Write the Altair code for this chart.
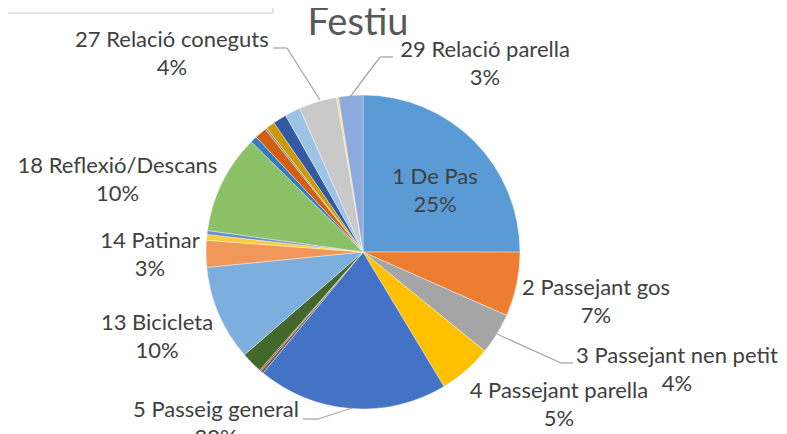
import math
import altair as alt
import pandas as pd

# ---- data (slice order = Excel order, clockwise from 12 o'clock) ----
categories = ["1 De Pas", "2 Passejant gos", "3 Passejant nen petit", "4 Passejant parella",
              "5 Passeig general", "6", "7", "12", "13 Bicicleta", "14 Patinar", "16", "17",
              "18 Reflexió/Descans", "19", "20", "21", "22", "23", "25",
              "27 Relació coneguts", "28", "29 Relació parella"]
values = [25.0, 6.6, 4.25, 5.5, 19.6, 0.3, 0.15, 2.2, 9.8, 2.75, 0.6, 0.4,
          10.2, 0.7, 1.2, 0.2, 0.9, 1.4, 1.6, 3.9, 0.2, 2.5]
colors = ["#5B9BD5", "#ED7D31", "#A5A5A5", "#FFC000", "#4472C4", "#636363", "#9E480E",
          "#43682B", "#7CAFDD", "#F1975A", "#FFCD33", "#698ED0", "#8CC168", "#327DC2",
          "#D26012", "#848484", "#CC9A00", "#335AA1", "#9DC3E6", "#C9C9C9", "#FFD966",
          "#8FAADC"]

# labelled slices and their percentages as displayed
label_names = ["1 De Pas", "2 Passejant gos", "3 Passejant nen petit", "4 Passejant parella",
               "5 Passeig general", "13 Bicicleta", "14 Patinar", "18 Reflexió/Descans",
               "27 Relació coneguts", "29 Relació parella"]
label_pcts = ["25%", "7%", "4%", "5%", "20%", "10%", "3%", "10%", "4%", "3%"]

# ---- layout ----
CX, CY, R = 355, 244, 157
LH = 28
label_angle = [49.7, 102.2, 110.6, 128.0, 220.5, 247.6, 269.2, 286.3, 316.0, 33.0]
label_radius = [94.4, 238.4, 335.4, 248.6, 226.3, 222.8, 213.0, 255.8, 275.1, 224.1]

pie_df = pd.DataFrame({"cat": categories, "value": values, "idx": range(len(values))})
lab_df = pd.DataFrame({
    "text": [f"{n}\n{p}" for n, p in zip(label_names, label_pcts)],
    "angle": label_angle,
    "radius": label_radius,
})

# leader lines (offsets relative to pie centre, px)
leaders = [
    (-90, -204, -76, -204), (-76, -204, -43, -152),   # 27
    (30, -195, 17, -195), (17, -195, -13, -155),      # 29
    (-60, 167, -45, 167), (-45, 167, -11, 156),       # 5
    (134, 82, 198, 111), (198, 111, 210, 111),        # 3
]
lead_df = pd.DataFrame(leaders, columns=["x", "y", "x2", "y2"])
for c in ["x", "x2"]:
    lead_df[c] = lead_df[c] + CX
for c in ["y", "y2"]:
    lead_df[c] = lead_df[c] + CY

pie = alt.Chart(pie_df).mark_arc(radius=R, stroke="white", strokeWidth=0.4).encode(
    theta=alt.Theta("value:Q", stack=True),
    order=alt.Order("idx:Q"),
    color=alt.Color("cat:N", scale=alt.Scale(domain=categories, range=colors), legend=None),
    x=alt.value(CX), y=alt.value(CY),
)

labels = alt.Chart(lab_df).mark_text(
    font="Lato", fontSize=22, color="#404040", lineBreak="\n", lineHeight=LH,
    align="center", baseline="middle", dy=-LH / 2,
).encode(
    theta=alt.Theta("angle:Q", stack=None, scale=alt.Scale(domain=[0, 360], range=[0, 2 * math.pi])),
    radius=alt.Radius("radius:Q", scale=None),
    text="text:N",
    x=alt.value(CX), y=alt.value(CY),
)

lead = alt.Chart(lead_df).mark_rule(color="#A6A6A6", strokeWidth=1.3).encode(
    x=alt.X("x:Q", scale=None), y=alt.Y("y:Q", scale=None),
    x2="x2:Q", y2="y2:Q",
)

title = alt.Chart(pd.DataFrame({"t": ["Festiu"]})).mark_text(
    font="Lato", fontSize=38, color="#595959", align="center", baseline="alphabetic",
).encode(text="t:N", x=alt.value(350), y=alt.value(27))

box = alt.Chart(pd.DataFrame({"x": [-8, 265], "y": [5, -8], "x2": [265, 265], "y2": [5, 5]})).mark_rule(
    color="#D9D9D9", strokeWidth=1.5
).encode(x=alt.X("x:Q", scale=None), y=alt.Y("y:Q", scale=None), x2="x2:Q", y2="y2:Q")

chart = alt.layer(box, pie, lead, labels, title).resolve_scale(
    theta="independent", radius="independent"
).properties(
    width=771, height=426, padding=0, autosize=alt.AutoSizeParams(type="none")
).configure_view(stroke=None)

chart.save("out.html", embed_options={"renderer": "svg", "actions": False})
